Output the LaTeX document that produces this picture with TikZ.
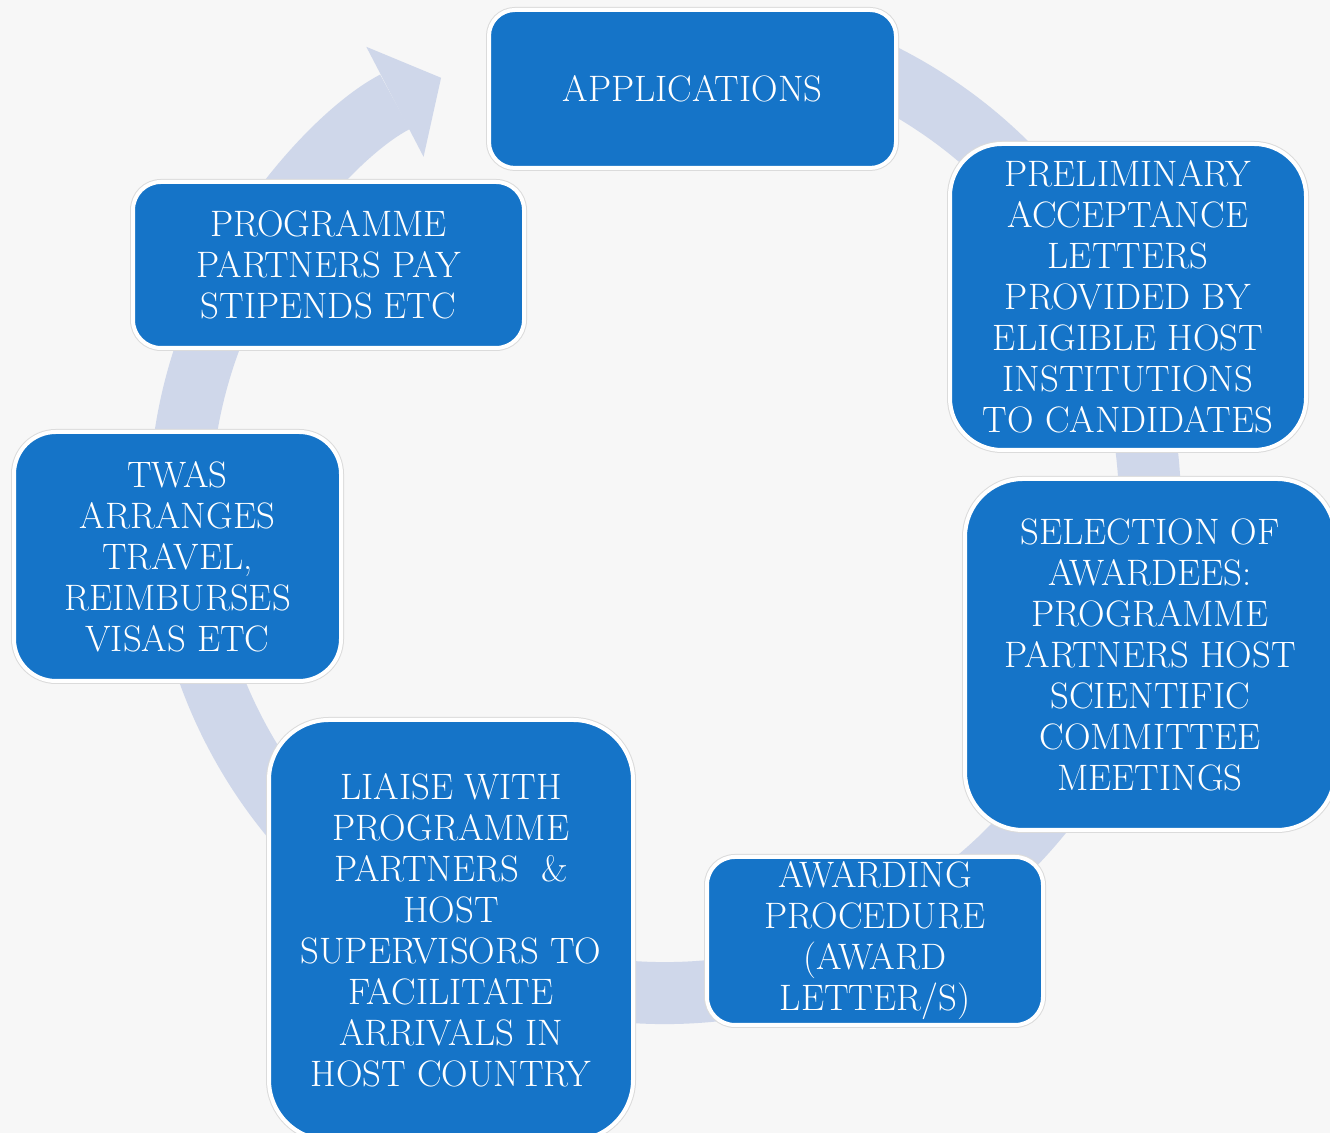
\documentclass[tikz,border=0pt]{standalone}
\usetikzlibrary{arrows.meta}
\definecolor{stageblue}{RGB}{21,116,200}
\definecolor{ringblue}{RGB}{207,215,234}
\definecolor{paper}{RGB}{247,247,247}
\tikzset{
  stage/.style={rectangle, fill=stageblue, draw=white, line width=2pt, text=white, align=center, inner sep=0pt,
    font=\fontsize{18.4}{20.5}\selectfont, preaction={draw=black!14, line width=3pt}},
  ring/.style={draw=ringblue, line width=31pt, -{Triangle[width=62pt,length=26pt,line width=0pt]}}
}
\begin{document}
\begin{tikzpicture}[x=0.5pt,y=0.5pt]
\fill[paper] (0,0) rectangle (1330,1133);
\useasboundingbox (0,0) rectangle (1330,1133);
\coordinate (hub) at (665,625);
\draw[ring] (hub) ++(65:485) arc[start angle=65, end angle=-242.5, radius=485];
\node[stage, rounded corners=13pt, minimum width=203.5pt, minimum height=79pt] (apps) at (692.5,1044) {APPLICATIONS};
\node[stage, rounded corners=26pt, minimum width=178pt, minimum height=153pt] (prelim) at (1128,836) {PRELIMINARY\\ACCEPTANCE\\LETTERS\\PROVIDED BY\\ELIGIBLE HOST\\INSTITUTIONS\\TO CANDIDATES};
\node[stage, rounded corners=29pt, minimum width=185pt, minimum height=175.5pt] (select) at (1150,478.5) {SELECTION OF\\AWARDEES:\\PROGRAMME\\PARTNERS HOST\\SCIENTIFIC\\COMMITTEE\\MEETINGS};
\node[stage, rounded corners=14pt, minimum width=168pt, minimum height=84pt] (award) at (875,192) {AWARDING\\PROCEDURE\\(AWARD\\LETTER/S)};
\node[stage, rounded corners=30pt, minimum width=182pt, minimum height=210pt] (liaise) at (451,203) {LIAISE WITH\\PROGRAMME\\PARTNERS \ \&\\HOST\\SUPERVISORS TO\\FACILITATE\\ARRIVALS IN\\HOST COUNTRY};
\node[stage, rounded corners=21pt, minimum width=163.5pt, minimum height=124.5pt] (twas) at (177.5,576.5) {TWAS\\ARRANGES\\TRAVEL,\\REIMBURSES\\VISAS ETC};
\node[stage, rounded corners=14pt, minimum width=195.5pt, minimum height=83pt] (stipend) at (328.5,868) {PROGRAMME\\PARTNERS PAY\\STIPENDS ETC};
\end{tikzpicture}
\end{document}
